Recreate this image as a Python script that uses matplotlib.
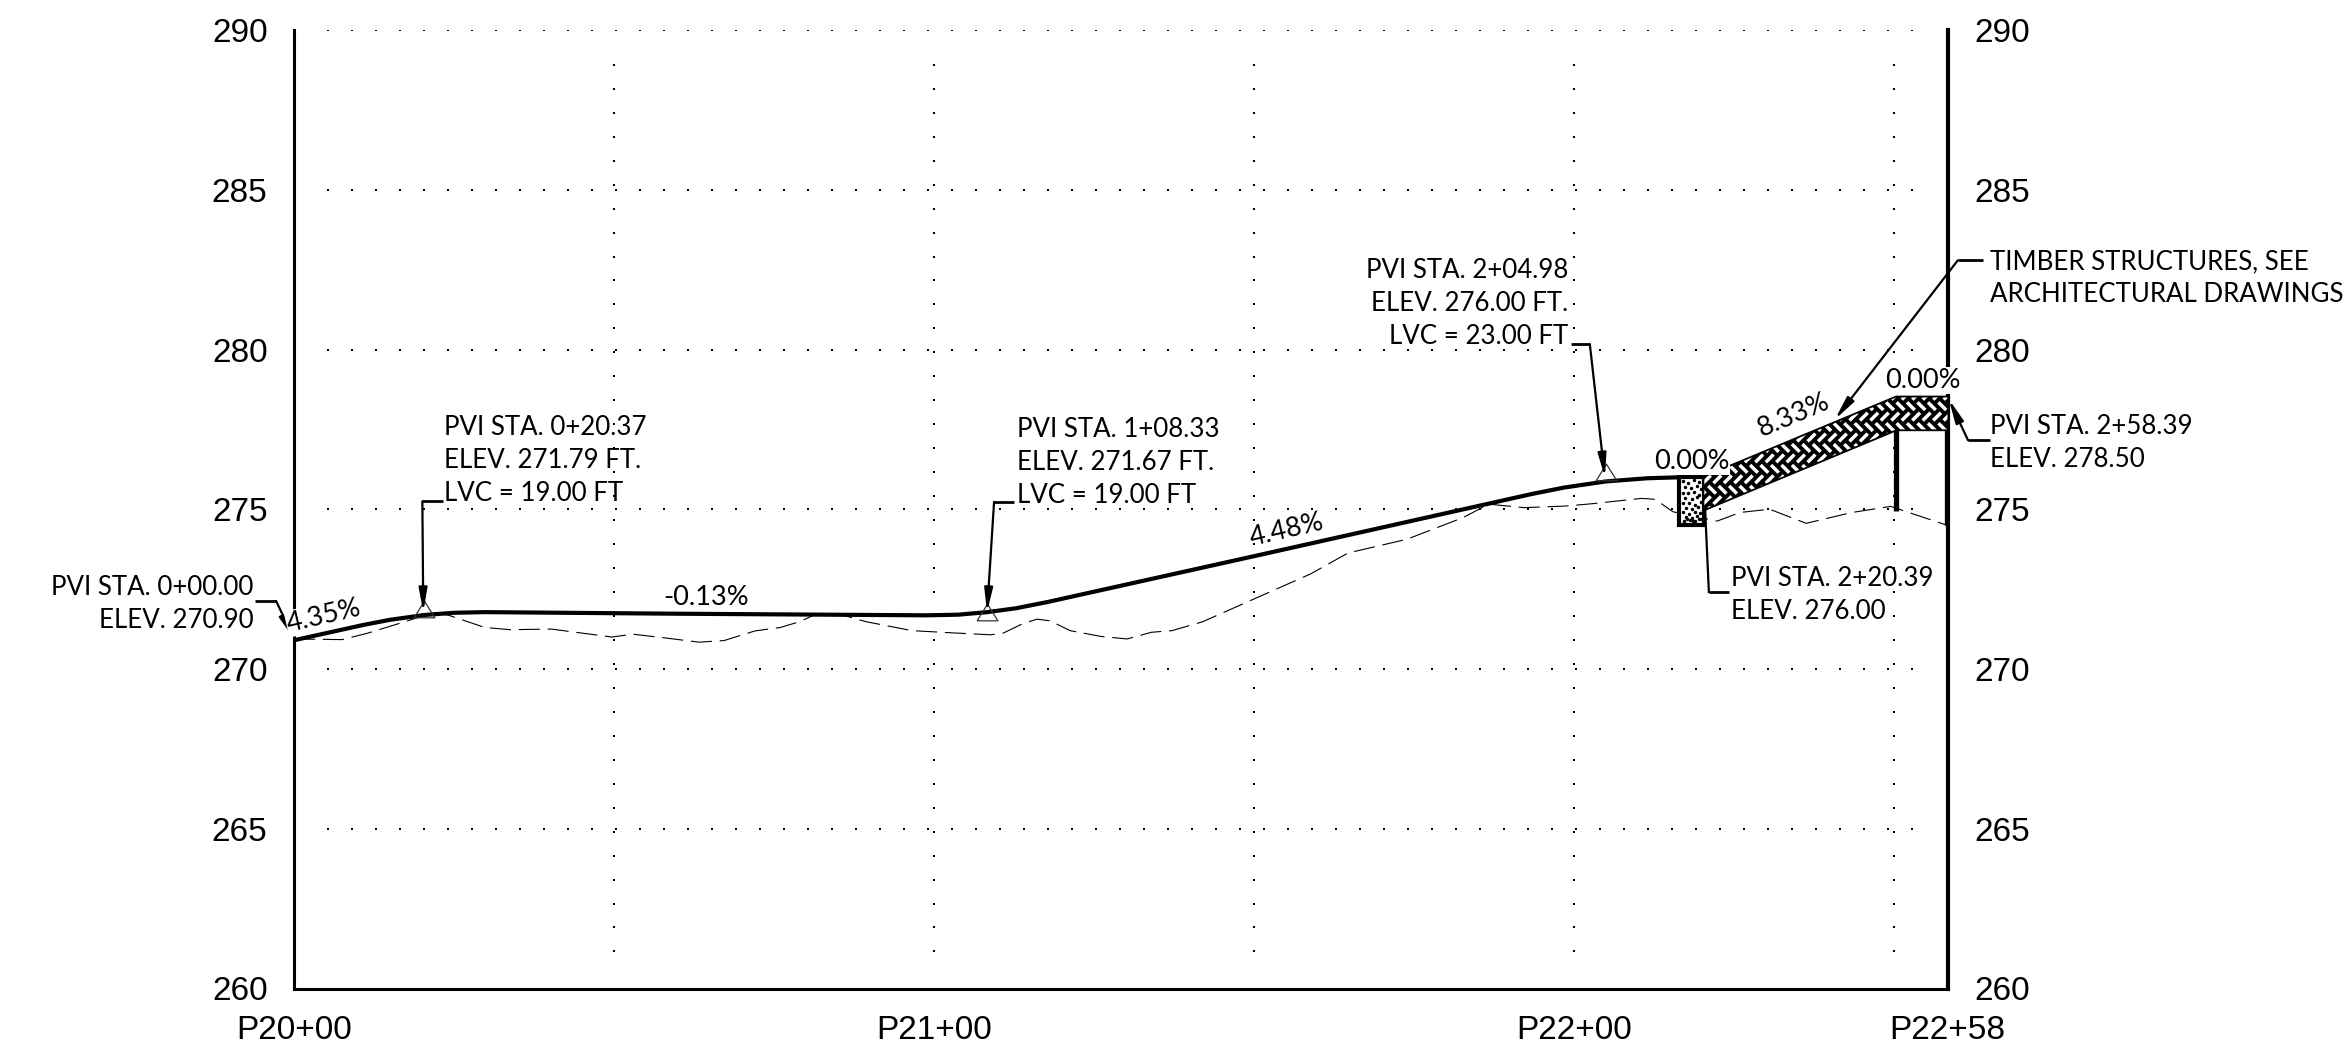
import numpy as np
import matplotlib
matplotlib.use("Agg")
import matplotlib.pyplot as plt
from matplotlib.collections import LineCollection
from matplotlib.patches import Polygon, Rectangle

W, H = 2351, 1057
LABEL_FONT = "Lato"
TICK_FONT = "Liberation Sans"
PX_PER_STA = 6.4
PX_PER_FT = 32.0

# finished grade, stations in ft and elevations in ft
grade_sta = [0, 10.87, 15, 20.37, 25, 29.87, 60, 98.83, 103.8, 108.33, 112.8, 117.83,
             150, 193.48, 198.5, 204.98, 211.5, 216.48, 220.39]
grade_elev = [270.90, 271.38, 271.54, 271.69, 271.76, 271.78, 271.73, 271.68, 271.70,
              271.78, 271.90, 272.10, 273.53, 275.48, 275.68, 275.87, 275.97, 276.0, 276.0]

# existing ground
ground_sta = [0, 7.5, 11.5, 17, 21.8, 24.2, 29.8, 33.8, 40.2, 49.7, 52.9, 57.7, 63.3, 67.2,
              72, 76, 79, 81.4, 85.5, 89.4, 96.6, 103, 108.9, 110.9, 113.8, 116.1, 118.1,
              121.3, 126.1, 130.2, 134, 137.2, 142, 150, 158.8, 164.7, 173.9, 182.7, 186.7,
              192.2, 198.6, 202.7, 210.6, 212.7, 215.5, 222.4, 226, 230.6, 236.3, 243.5,
              249.5, 258.3]
ground_elev = [270.94, 270.92, 271.12, 271.46, 271.77, 271.68, 271.3, 271.23, 271.25, 271.0,
               271.09, 270.98, 270.84, 270.89, 271.19, 271.3, 271.48, 271.7, 271.7, 271.48,
               271.2, 271.13, 271.07, 271.13, 271.41, 271.56, 271.51, 271.2, 271.02, 270.94,
               271.15, 271.2, 271.48, 272.19, 272.97, 273.63, 274.06, 274.74, 275.16, 275.05,
               275.1, 275.17, 275.34, 275.31, 274.92, 274.63, 274.9, 275.0, 274.56, 274.9,
               275.09, 274.5]

# timber ramp outline and the stone footing
ramp_sta = [220.39, 250.39, 258.39, 258.39, 250.39, 220.39]
ramp_elev = [276.0, 278.5, 278.5, 277.5, 277.5, 275.0]
post_sta = [250.39, 258.39]
post_bottom = [274.95, 274.5]
post_top = [277.5, 277.5]
footing_sta = [216.4, 220.39]
footing_elev = [274.5, 276.0]
speck_sta = [217.1, 217.9, 218.7, 219.6, 217.4, 218.3, 219.2, 219.9, 217.0, 217.8, 218.8, 219.6,
             217.4, 218.4, 219.2, 217.1, 218.0, 218.9, 219.8, 217.5, 218.5, 219.4, 217.0, 218.0,
             218.9, 219.7, 217.5, 218.4, 219.3, 217.2, 218.1, 219.0, 219.8, 217.7, 218.6, 219.5]
speck_elev = [275.88, 275.82, 275.9, 275.84, 275.7, 275.66, 275.72, 275.62, 275.52, 275.5,
              275.55, 275.46, 275.36, 275.32, 275.38, 275.18, 275.2, 275.14, 275.22, 275.04,
              275.0, 275.06, 274.9, 274.86, 274.92, 274.88, 274.76, 274.72, 274.78, 274.64,
              274.66, 274.62, 274.68, 274.68, 274.64, 274.7]

# PVI triangles
tri_sta = [20.37, 108.33, 204.98]
tri_elev = [271.87, 271.77, 276.17]

yticks = [260, 265, 270, 275, 280, 285, 290]
xticks = [0, 100, 200, 258.39]
xticklabels = ["P20+00", "P21+00", "P22+00", "P22+58"]
vgrid_sta = [50, 100, 150, 200, 250]
hgrid_elev = [265, 270, 275, 280, 285, 290]

# label text, anchor station, anchor elevation, horizontal alignment
notes = [
    ("PVI STA. 0+00.00\nELEV. 270.90", -6.33, 272.03, "right"),
    ("PVI STA. 0+20.37\nELEV. 271.79 FT.\nLVC = 19.00 FT", 23.44, 276.52, "left"),
    ("PVI STA. 1+08.33\nELEV. 271.67 FT.\nLVC = 19.00 FT", 113.0, 276.47, "left"),
    ("PVI STA. 2+04.98\nELEV. 276.00 FT.\nLVC = 23.00 FT", 199.2, 281.44, "right"),
    ("PVI STA. 2+20.39\nELEV. 276.00", 224.5, 272.33, "left"),
    ("PVI STA. 2+58.39\nELEV. 278.50", 265.1, 277.08, "left"),
    ("TIMBER STRUCTURES, SEE\nARCHITECTURAL DRAWINGS", 265.1, 282.23, "left"),
]

# grade callouts: text, station, elevation, rotation, white mask
grades = [
    ("4.35%", 4.7, 271.66, 13, True),
    ("-0.13%", 64.4, 272.23, 0, False),
    ("4.48%", 155.2, 274.34, 13, False),
    ("8.33%", 234.4, 277.95, 23, False),
    ("0.00%", 218.4, 276.5, 0, True),
    ("0.00%", 254.5, 279.03, 0, True),
]

# leaders: elbow points, last segment gets the arrow head
leaders = [
    ([-6.1, -2.8, 0.0], [272.13, 272.13, 270.95], True),
    ([23.3, 20.06, 20.2], [275.25, 275.25, 271.78], True),
    ([112.5, 109.4, 108.3], [275.23, 275.23, 271.78], True),
    ([199.5, 202.5, 204.85], [280.16, 280.16, 276.0], True),
    ([263.9, 260.0, 240.8], [282.79, 282.79, 277.81], True),
    ([265.0, 261.6, 258.6], [277.16, 277.16, 278.44], True),
    ([224.3, 221.1, 220.5], [272.41, 272.41, 275.06], False),
]


def herringbone_segments(x0, y0, u, nx, ny):
    # two bricks per lattice cell, rotated 45 deg so the rows run level
    segs = []
    half = u * 0.74
    r = np.sqrt(0.5)
    for i in range(-nx, nx):
        for j in range(-ny, ny):
            ox = i + 2 * j
            oy = -i + 2 * j
            for cx, cy, dx, dy in [(ox + 1.0, oy + 0.5, 1, 0), (ox + 2.5, oy + 1.0, 0, 1)]:
                px = (cx - cy) * r * u
                py = (cx + cy) * r * u
                sx = (dx - dy) * r * half
                sy = (dx + dy) * r * half
                segs.append([(x0 + (px - sx) / PX_PER_STA, y0 + (py - sy) / PX_PER_FT),
                             (x0 + (px + sx) / PX_PER_STA, y0 + (py + sy) / PX_PER_FT)])
    return segs


fig = plt.figure(figsize=(W / 100, H / 100), dpi=100)
ax = fig.add_axes([294 / W, 1 - 988.5 / H, (1947.5 - 294) / W, (988.5 - 30) / H])
ax.set_xlim(0, 258.39)
ax.set_ylim(260, 290)

ax.spines["top"].set_visible(False)
ax.spines["left"].set_linewidth(2.2)
ax.spines["bottom"].set_linewidth(2.2)
ax.spines["right"].set_linewidth(3.0)

ax.set_yticks(yticks)
ax.set_xticks(xticks, xticklabels)
ax.tick_params(length=0, labelsize=24, labelleft=True, labelright=True)
ax.tick_params(axis="y", pad=19)
ax.tick_params(axis="x", pad=19)
for lab in ax.get_xticklabels() + ax.get_yticklabels():
    lab.set_fontfamily(TICK_FONT)

# dotted grid
for y in hgrid_elev:
    xs = np.arange(5.3, 254, 3.75)
    ax.plot(xs, np.full(len(xs), y), ls="none", marker="s", ms=1.7, mew=0, color="black", zorder=1)
for x in vgrid_sta:
    ys = np.arange(261.16, 289.2, 0.75)
    ax.plot(np.full(len(ys), x), ys, ls="none", marker="s", ms=1.7, mew=0, color="black", zorder=1)

ax.plot(ground_sta, ground_elev, color="black", lw=0.8, ls=(0, (19, 7)), zorder=2)
ax.plot(grade_sta, grade_elev, color="black", lw=3.0, solid_capstyle="butt", zorder=3)

# ramp fill with white herringbone strokes
ramp = Polygon(np.column_stack([ramp_sta, ramp_elev]), closed=True, facecolor="black",
               edgecolor="black", lw=2.6, zorder=3)
ax.add_patch(ramp)
strokes = LineCollection(herringbone_segments(240, 277, 7.4, 24, 24), colors="white",
                         linewidths=2.5, zorder=3.1, capstyle="butt")
ax.add_collection(strokes)
inner = Polygon(np.column_stack([ramp_sta, ramp_elev]), closed=True, transform=ax.transData)
strokes.set_clip_path(inner)

# stone footing
ax.add_patch(Rectangle((footing_sta[0], footing_elev[0]), footing_sta[1] - footing_sta[0],
                       footing_elev[1] - footing_elev[0], facecolor="white", edgecolor="black",
                       lw=3.0, zorder=3))
ax.plot(speck_sta, speck_elev, ls="none", marker="o", ms=2.5, mew=0, color="black", zorder=3.1)

ax.vlines(post_sta, post_bottom, post_top, color="black", lw=3.8, zorder=3)

tri_marker = [(-1, -0.8), (1, -0.8), (0, 0.8), (-1, -0.8)]
ax.plot(tri_sta, tri_elev, ls="none", marker=tri_marker, ms=15,
        mfc="none", mec="#333333", mew=0.9, zorder=3.2)

for xs, ys, has_arrow in leaders:
    ax.plot(xs[:2], ys[:2], color="black", lw=2.0, clip_on=False, solid_capstyle="butt", zorder=4)
    if has_arrow:
        ax.annotate("", xy=(xs[2], ys[2]), xytext=(xs[1], ys[1]), annotation_clip=False, zorder=4,
                    arrowprops=dict(arrowstyle="-|>,head_length=1.4,head_width=0.25", color="black",
                                    lw=1.6, shrinkA=0, shrinkB=0))
    else:
        ax.plot(xs[1:], ys[1:], color="black", lw=1.6, clip_on=False, zorder=4)

for text, x, y, ha in notes:
    ax.text(x, y, text, ha=ha, va="center", multialignment=ha, fontsize=18.6, linespacing=1.4,
            family=LABEL_FONT, color="black", zorder=6)

for text, x, y, rot, mask in grades:
    box = dict(facecolor="white", edgecolor="none", pad=0.5) if mask else None
    ax.text(x, y, text, ha="center", va="center", rotation=rot, rotation_mode="anchor", fontsize=19.5,
            family=LABEL_FONT, color="black", bbox=box, zorder=6)

fig.savefig("out.png", dpi=100)
plt.close(fig)
